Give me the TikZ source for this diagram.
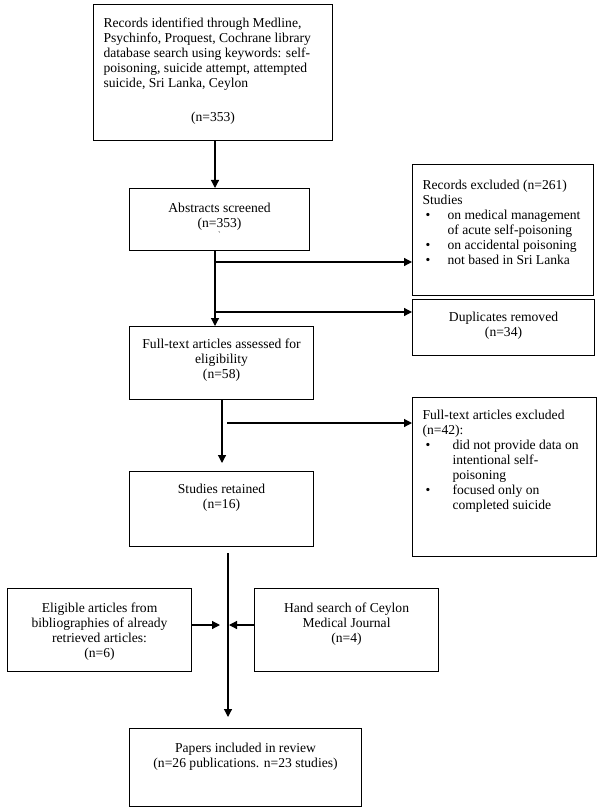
\documentclass[tikz,border=0pt]{standalone}
\usepackage{fontspec}
\setmainfont{Liberation Serif}
\usepackage{tikz}
\usetikzlibrary{arrows.meta,positioning}

% text inside the boxes: width, height, first baseline, text
\newcommand{\cbox}[4]{\parbox[c][#2pt][t]{#1pt}{\centering\rule{0pt}{#3pt}#4}}
\newcommand{\lbox}[4]{\parbox[c][#2pt][t]{#1pt}{\raggedright\leftskip=10pt\rightskip=-40pt plus 1fil\rule{0pt}{#3pt}#4}}
\newcommand{\bul}[1]{\hspace*{3pt}\makebox[#1pt][l]{\textbullet}}

\begin{document}
\begin{tikzpicture}[x=1pt,y=-1pt]
	\tikzset{box/.style={draw,line width=1.1pt,inner sep=0pt,anchor=north west,
		font=\fontsize{13.6}{15}\selectfont}}
	\tikzset{arr/.style={-{Triangle[length=8pt,width=8pt]},line width=1.2pt}}
	\useasboundingbox (0,0) rectangle (600,810);

	%% main column
	\node[box] (rec) at (93,4) {\lbox{239}{136}{23}{Records identified through Medline,\\
		Psychinfo, Proquest, Cochrane library\\
		database search using keywords: self-\\
		poisoning, suicide attempt, attempted\\
		suicide, Sri Lanka, Ceylon\\[19pt]
		\hspace*{-10pt}\makebox[239pt]{(n=353)}}};
	\node[box] (abs) at (129,188) {\cbox{180}{62}{24}{Abstracts screened\\(n=353)\\[-5pt]
		{\fontsize{8}{8}\selectfont\textasciigrave}}};
	\node[box] (full) at (129,326) {\cbox{184}{73}{22}{Full-text articles assessed for\\eligibility\\(n=58)}};
	\node[box] (ret) at (129,471) {\cbox{184}{75}{22}{Studies retained\\(n=16)}};
	\node[box] (inc) at (129,728) {\cbox{232}{78}{24}{Papers included in review\\(n=26 publications. n=23 studies)}};

	%% excluded on the right
	\node[box] (excl1) at (412,164) {\lbox{181}{131}{25}{Records excluded (n=261)\\
		Studies\\
		\bul{22}on medical management\\
		\hspace*{25pt}of acute self-poisoning\\
		\bul{22}on accidental poisoning\\
		\bul{22}not based in Sri Lanka}};
	\node[box] (dup) at (412,299) {\cbox{182}{56}{22}{Duplicates removed\\(n=34)}};
	\node[box] (excl2) at (412,397) {\lbox{184}{159}{22}{Full-text articles excluded\\
		(n=42):\\
		\bul{27}did not provide data on\\
		\hspace*{30pt}intentional self-\\
		\hspace*{30pt}poisoning\\
		\bul{27}focused only on\\
		\hspace*{30pt}completed suicide}};

	%% extra sources
	\node[box] (bib) at (7,588) {\cbox{184}{83}{24}{Eligible articles from\\bibliographies of already\\retrieved articles:\\(n=6)}};
	\node[box] (hand) at (254,588) {\cbox{184}{83}{24}{Hand search of Ceylon\\Medical Journal\\(n=4)}};

	\coordinate (a1) at (215,262);
	\coordinate (a2) at (215,312);
	\coordinate (b0) at (222,423);
	\coordinate (b1) at (227,423);
	\coordinate (c1) at (228,625);

	\draw[arr] (rec.south -| a1) -- (abs.north -| a1);
	\draw[line width=1.2pt] (abs.south -| a1) -- (a2);
	\draw[arr] (a2) -- (full.north -| a1);
	\draw[arr] (a1) -- (a1 -| excl1.west);
	\draw[arr] (a2) -- (a2 -| dup.west);
	\draw[arr,shorten >=8pt] (full.south -| b0) -- (ret.north -| b0);
	\draw[arr] (b1) -- (b1 -| excl2.west);
	\draw[arr,shorten <=6pt,shorten >=11pt] (ret.south -| c1) -- (inc.north -| c1);
	\draw[arr] (bib.east |- c1) -- ([xshift=-8pt]c1);
	\draw[arr] (hand.west |- c1) -- ([xshift=1pt]c1);
\end{tikzpicture}
\end{document}
